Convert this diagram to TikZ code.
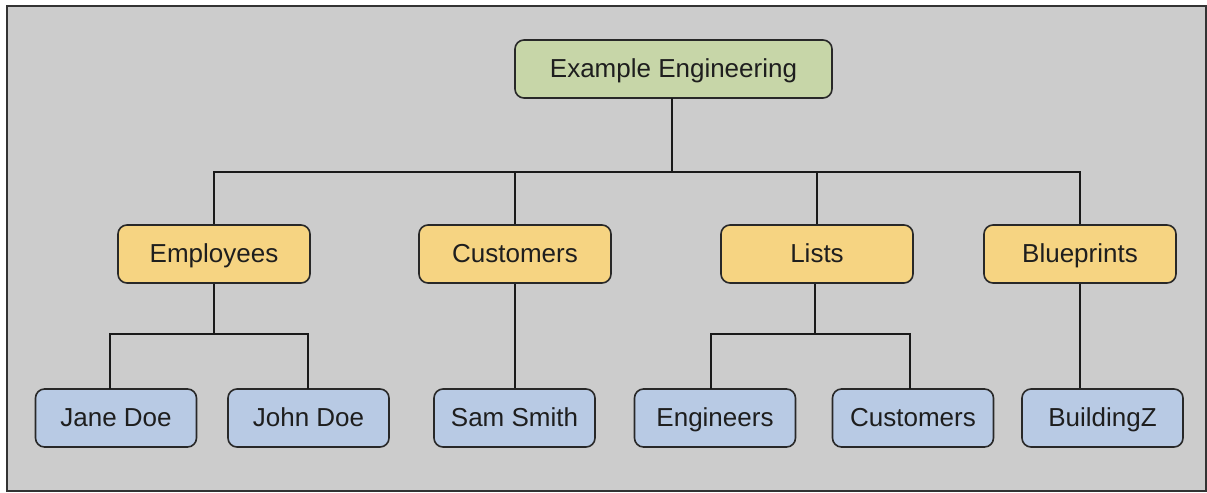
\documentclass[tikz,border=0pt]{standalone}
\usepackage{fontspec}
\setmainfont{Liberation Sans}
\definecolor{bggray}{RGB}{204,204,204}
\definecolor{rootgreen}{RGB}{199,214,168}
\definecolor{midyellow}{RGB}{246,212,130}
\definecolor{leafblue}{RGB}{184,202,228}
\definecolor{boxline}{RGB}{40,40,40}
\definecolor{txt}{RGB}{30,30,30}
\tikzset{
  box/.style={draw=boxline, line width=0.8pt, rounded corners=4.5pt, minimum height=29pt,
    inner sep=0pt, text height=10.5pt, text depth=2.5pt,
    font=\fontsize{13}{15}\selectfont, text=txt},
  rootbox/.style={box, fill=rootgreen, minimum width=158.5pt},
  midbox/.style={box, fill=midyellow, minimum width=96pt},
  leafbox/.style={box, fill=leafblue, minimum width=80.5pt},
  link/.style={line width=1.3pt, draw=black!90}
}
\begin{document}
\begin{tikzpicture}[x=0.5pt,y=-0.5pt]
\useasboundingbox (0,0) rectangle (1207,493);
\fill[white] (0,0) rectangle (1207,493);
\draw[fill=bggray, draw=black!80, line width=1pt] (7,6) rectangle (1205.5,491);

\node[rootbox] (root) at (673.5,69) {Example Engineering};

\node[midbox] (emp) at (214,254) {Employees};
\node[midbox] (cust) at (515,254) {Customers};
\node[midbox] (lists) at (817,254) {Lists};
\node[midbox] (blue) at (1080,254) {Blueprints};

\node[leafbox] (jane) at (116,418) {Jane Doe};
\node[leafbox] (john) at (308.5,418) {John Doe};
\node[leafbox] (sam) at (514.5,418) {Sam Smith};
\node[leafbox] (eng) at (715,418) {Engineers};
\node[leafbox] (cust2) at (913,418) {Customers};
\node[leafbox] (bz) at (1102.5,418) {BuildingZ};

\coordinate (bus) at (0,172);
\coordinate (bus2) at (0,334);
\coordinate (rootbot) at (672,98);
\coordinate (janetop) at (110,389);
\coordinate (johntop) at (308,389);
\coordinate (engtop) at (711,389);
\coordinate (cust2top) at (910,389);

% level 1 -> 2
\draw[link] (rootbot) -- (rootbot |- bus);
\draw[link] (emp.north) -- (emp.north |- bus) -- (blue.north |- bus) -- (blue.north);
\draw[link] (cust.north) -- (cust.north |- bus);
\draw[link] (lists.north) -- (lists.north |- bus);

% level 2 -> 3
\draw[link] (emp.south) -- (emp.south |- bus2);
\draw[link] (janetop) -- (janetop |- bus2) -- (johntop |- bus2) -- (johntop);
\draw[link] (cust.south) -- (cust.south |- sam.north);
\draw[link] ([xshift=-1pt]lists.south) -- ([xshift=-1pt]lists.south |- bus2);
\draw[link] (engtop) -- (engtop |- bus2) -- (cust2top |- bus2) -- (cust2top);
\draw[link] (blue.south) -- (blue.south |- bz.north);
\end{tikzpicture}
\end{document}
